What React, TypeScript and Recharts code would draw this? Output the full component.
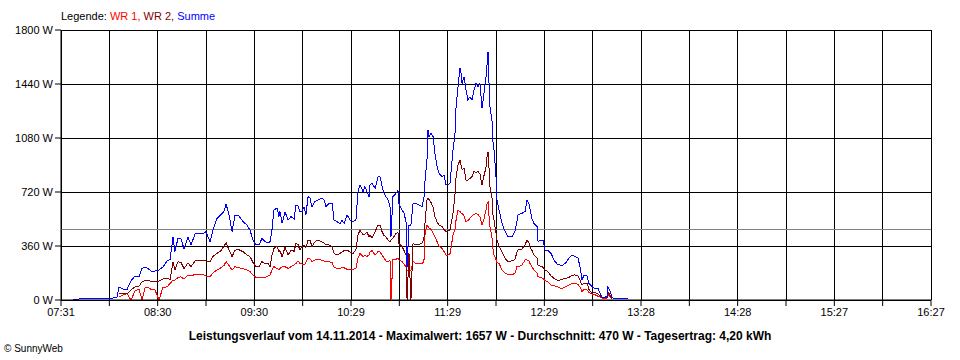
import React from "react";
import { CartesianGrid, Line, LineChart, ReferenceLine, XAxis, YAxis } from "recharts";

// minutes after 07:31
const minutes = [
	7.4, 11.7, 16.0, 20.9, 25.9, 30.8, 34.5, 35.7, 38.2, 40.7,
	43.1, 45.6, 48.1, 49.9, 51.8, 54.2, 56.1, 57.9, 60.4, 62.8,
	65.3, 67.2, 69.0, 70.2, 72.1, 73.9, 75.8, 78.2, 80.1, 82.6,
	85.0, 87.5, 89.3, 91.8, 93.6, 96.1, 98.6, 100.4, 101.7, 103.5,
	105.4, 107.2, 109.7, 112.1, 114.6, 116.4, 118.3, 120.1, 122.0, 123.8,
	125.7, 127.5, 128.8, 130.0, 131.2, 133.1, 134.3, 134.9, 136.2, 138.0,
	139.9, 141.7, 143.6, 144.8, 146.0, 147.2, 148.5, 149.7, 150.9, 152.2,
	153.4, 154.6, 156.5, 158.3, 160.2, 162.0, 163.3, 165.1, 167.0, 168.2,
	170.0, 171.9, 173.1, 174.4, 176.2, 178.1, 179.9, 181.7, 183.0, 184.2,
	186.1, 187.3, 188.5, 189.8, 190.4, 191.6, 193.5, 195.3, 196.5, 197.8,
	199.0, 200.2, 201.5, 202.7, 203.3, 204.5, 206.4, 207.6, 208.2, 210.1,
	211.3, 212.6, 213.2, 214.4, 215.6, 216.9, 218.7, 220.6, 222.4, 223.6,
	224.3, 225.5, 226.1, 226.7, 228.0, 229.2, 230.4, 231.7, 232.9, 234.7,
	236.0, 237.2, 238.4, 239.7, 241.5, 242.7, 243.4, 244.6, 245.8, 246.4,
	247.1, 248.3, 249.5, 250.7, 252.0, 253.2, 254.4, 255.7, 256.9, 258.1,
	259.4, 260.6, 261.8, 262.4, 263.1, 263.7, 264.3, 265.5, 266.2, 266.8,
	268.0, 268.6, 269.9, 271.7, 273.6, 275.4, 277.9, 279.7, 280.9, 281.6,
	284.0, 285.9, 287.1, 288.3, 288.9, 290.2, 291.4, 293.3, 293.9, 295.7,
	297.0, 298.2, 300.0, 301.9, 303.7, 305.6, 307.4, 309.3, 311.1, 313.0,
	314.8, 316.7, 318.5, 319.8, 321.0, 322.2, 324.1, 325.3, 327.1, 329.0,
	330.8, 332.1, 333.3, 335.2, 336.4, 337.0, 338.2, 339.5, 340.7, 344.4,
	349.3,
];

const summe = [
	3, 7, 13, 10, 10, 10, 20, 87, 73, 70,
	127, 160, 153, 210, 220, 205, 187, 193, 200, 220,
	260, 270, 420, 322, 413, 410, 340, 420, 367, 440,
	447, 440, 456, 389, 467, 544, 570, 590, 640, 567,
	456, 567, 560, 522, 500, 467, 400, 367, 367, 410,
	389, 380, 389, 470, 600, 613, 556, 590, 511, 589,
	533, 556, 540, 633, 630, 589, 590, 622, 567, 689,
	680, 622, 656, 667, 678, 670, 622, 645, 645, 533,
	522, 511, 533, 511, 567, 533, 522, 533, 722, 767,
	722, 756, 722, 689, 767, 778, 744, 822, 822, 760,
	711, 689, 667, 622, 422, 689, 711, 733, 644, 600,
	580, 520, 222, 500, 500, 644, 644, 633, 622, 678,
	800, 944, 1133, 1089, 1111, 1089, 978, 889, 844, 822,
	830, 767, 767, 780, 1000, 1100, 1289, 1422, 1544, 1520,
	1444, 1489, 1400, 1333, 1355, 1333, 1400, 1444, 1422, 1444,
	1278, 1380, 1480, 1556, 1656, 1444, 1289, 1200, 1044, 1000,
	822, 667, 600, 511, 456, 422, 422, 456, 522, 567,
	578, 590, 667, 640, 611, 540, 511, 490, 389, 400,
	400, 333, 330, 311, 267, 240, 233, 233, 250, 280,
	300, 290, 280, 220, 133, 167, 160, 110, 89, 75,
	78, 45, 20, 20, 22, 89, 60, 20, 7, 7,
	7,
];

const wr2 = [
	null, null, null, null, null, null, null, 47, 43, 40,
	67, 87, 93, 120, 130, 130, 122, 120, 127, 140,
	147, 135, 253, 200, 256, 250, 210, 247, 222, 260,
	267, 262, 260, 256, 290, 310, 330, 360, 382, 333,
	289, 333, 335, 322, 300, 290, 250, 222, 222, 256,
	240, 245, 222, 300, 344, 356, 322, 330, 289, 351,
	300, 333, 325, 378, 370, 333, 356, 367, 350, 400,
	400, 356, 389, 400, 389, 380, 367, 367, 356, 311,
	300, 311, 320, 330, 333, 320, 311, 333, 433, 467,
	433, 440, 450, 422, 430, 415, 456, 500, 500, 456,
	430, 422, 400, 389, 400, 411, 444, 450, 378, 356,
	330, 300, 0, 310, 0, 378, 367, 370, 378, 411,
	520, 667, 678, 670, 650, 620, 556, 520, 500, 490,
	470, 456, 460, 470, 578, 700, 822, 900, 933, 900,
	870, 880, 800, 800, 810, 822, 856, 850, 856, 840,
	767, 830, 880, 950, 989, 880, 756, 689, 560, 533,
	444, 400, 356, 322, 278, 256, 262, 270, 320, 333,
	340, 367, 400, 380, 356, 330, 300, 280, 233, 225,
	218, 200, 189, 160, 145, 133, 133, 140, 145, 150,
	165, 167, 160, 130, 100, 111, 111, 70, 45, 50,
	40, 30, 15, 15, 15, 50, 35, 10, null, null,
	null,
];

const wr1 = [
	null, null, null, null, null, null, null, 22, 33, 44,
	0, 60, 73, 0, 82, 80, 67, 67, 0, 85,
	87, 110, 133, 133, 150, 155, 140, 167, 160, 171,
	171, 171, 160, 156, 180, 200, 215, 230, 256, 230,
	200, 222, 215, 210, 200, 190, 167, 151, 151, 151,
	151, 160, 167, 200, 222, 210, 200, 210, 222, 222,
	211, 222, 233, 244, 260, 244, 240, 233, 250, 278,
	275, 255, 267, 267, 267, 260, 255, 255, 250, 220,
	211, 211, 215, 215, 205, 204, 204, 210, 278, 311,
	290, 300, 290, 300, 320, 330, 300, 322, 322, 300,
	280, 260, 256, 262, 0, 267, 270, 280, 267, 256,
	240, 222, 200, 200, 200, 256, 244, 244, 244, 256,
	444, 500, 490, 480, 470, 444, 420, 389, 360, 344,
	322, 300, 300, 310, 430, 470, 533, 600, 590, 580,
	580, 560, 522, 530, 545, 560, 570, 578, 570, 555,
	500, 540, 600, 640, 656, 560, 489, 420, 333, 300,
	270, 250, 244, 200, 178, 170, 167, 180, 222, 222,
	233, 267, 267, 260, 244, 220, 200, 180, 156, 150,
	145, 130, 122, 100, 95, 89, 80, 80, 89, 100,
	111, 111, 105, 85, 56, 70, 67, 50, 40, 35,
	25, 20, 12, 10, 12, 40, 20, 5, null, null,
	null,
];

const xTickLabels = ["07:31", "08:30", "09:30", "10:29", "11:29", "12:29", "13:28", "14:28", "15:27", "16:27"];
const yTicks = [0, 360, 720, 1080, 1440, 1800];
const average = 470;
const span = 536; // 07:31 .. 16:27

const xTicks = Array.from({ length: 19 }, (_, i) => (i * span) / 18);

const data = minutes.map((t, i) => ({ t, wr1: wr1[i], wr2: wr2[i], summe: summe[i] }));

const FONT = "'Liberation Sans', Arial, sans-serif";
const tickStyle = { fontSize: 11, fill: "#000", fontFamily: FONT };

export default function App() {
	return (
		<div style={{ position: "absolute", left: 0, top: 0, width: 960, height: 360, background: "#fff", fontFamily: FONT }}>
			<div style={{ position: "absolute", left: 61, top: 10, fontSize: 11, lineHeight: "13px" }}>
				<span style={{ color: "#000" }}>Legende: </span>
				<span style={{ color: "#ff0000" }}>WR 1, </span>
				<span style={{ color: "#800000" }}>WR 2, </span>
				<span style={{ color: "#0000ff" }}>Summe</span>
			</div>
			<LineChart width={960} height={360} data={data} margin={{ top: 30, right: 29, bottom: 40, left: 8 }}>
				<CartesianGrid stroke="#000" strokeOpacity={1} shapeRendering="crispEdges" />
				<XAxis
					type="number"
					dataKey="t"
					domain={[0, span]}
					ticks={xTicks}
					interval={0}
					height={20}
					tickSize={6}
					tick={tickStyle}
					stroke="#000"
					tickFormatter={(_v, i) => (i % 2 === 0 ? xTickLabels[i / 2] : "")}
				/>
				<YAxis
					domain={[0, 1800]}
					ticks={yTicks}
					width={53}
					tickSize={6}
					tickMargin={2}
					tick={tickStyle}
					stroke="#000"
					tickFormatter={(v) => `${v} W`}
				/>
				<ReferenceLine y={average} stroke="#808080" strokeWidth={1} shapeRendering="crispEdges" />
				<Line dataKey="wr1" stroke="#ff0000" strokeWidth={1} dot={false} isAnimationActive={false} shapeRendering="crispEdges" />
				<Line dataKey="wr2" stroke="#800000" strokeWidth={1} dot={false} isAnimationActive={false} shapeRendering="crispEdges" />
				<Line dataKey="summe" stroke="#0000ff" strokeWidth={1} dot={false} isAnimationActive={false} shapeRendering="crispEdges" />
			</LineChart>
			<div style={{ position: "absolute", left: 0, width: 960, top: 329, textAlign: "center", fontSize: 12, fontWeight: "bold" }}>
				Leistungsverlauf vom 14.11.2014 - Maximalwert: 1657 W - Durchschnitt: 470 W - Tagesertrag: 4,20 kWh
			</div>
			<div style={{ position: "absolute", left: 4, top: 343, fontSize: 10 }}>© SunnyWeb</div>
		</div>
	);
}
